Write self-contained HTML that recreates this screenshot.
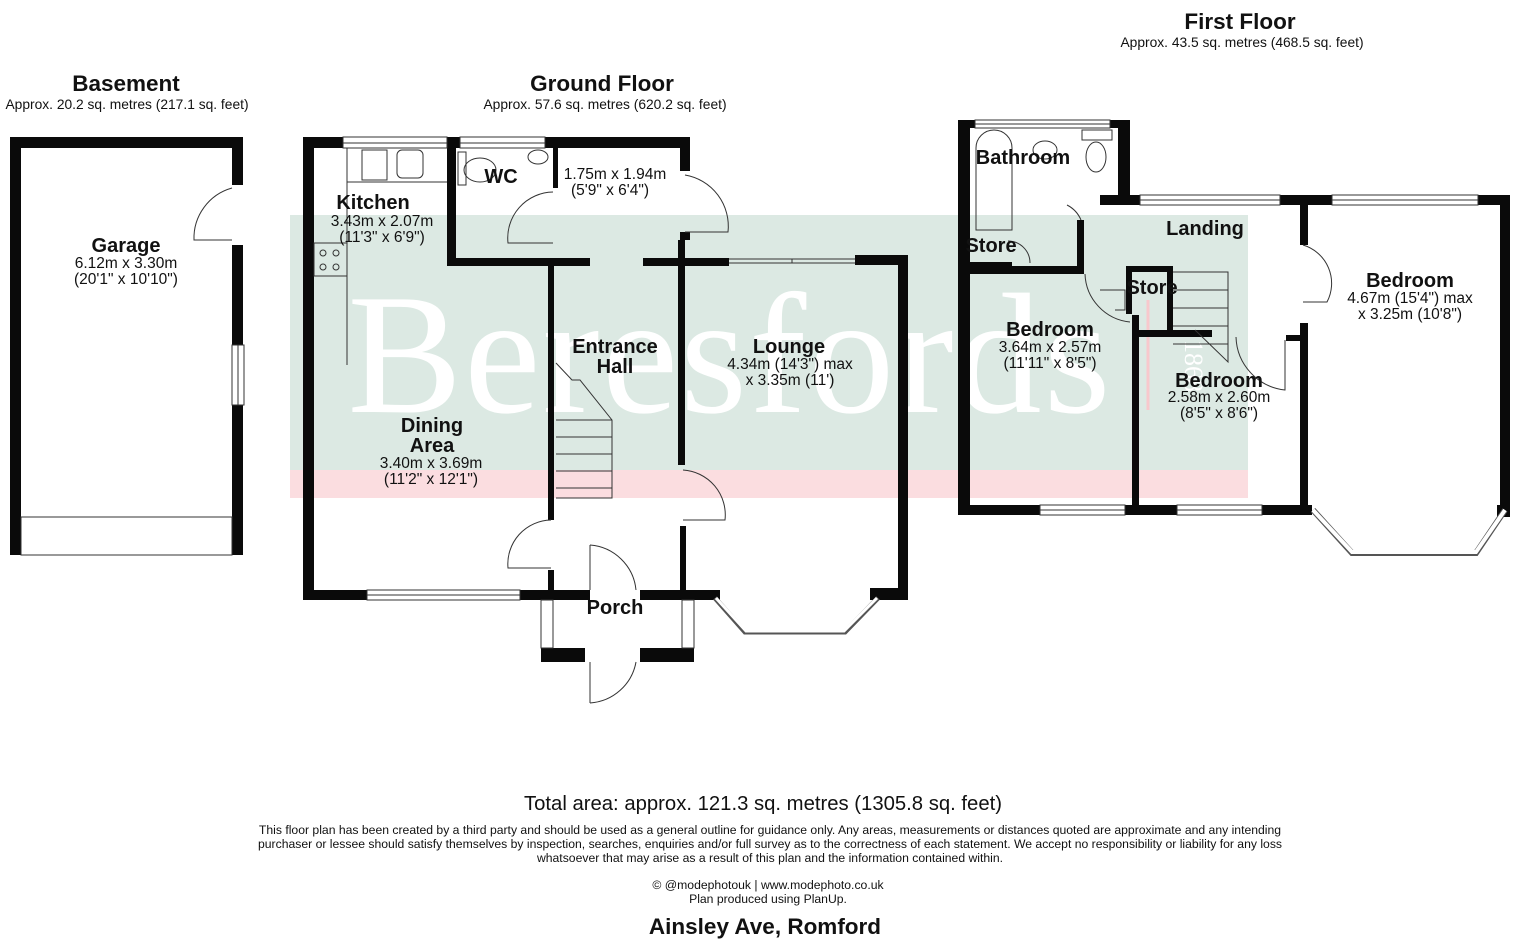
<!DOCTYPE html>
<html><head><meta charset="utf-8"><style>
html,body{margin:0;padding:0;background:#fff;}
svg{display:block;font-family:"Liberation Sans",Arial,sans-serif;}
.b{font-weight:bold;font-size:20px;}
.s{font-size:15.5px;}
.t{font-size:12.2px;}
</style></head><body>
<svg width="1530" height="939" viewBox="0 0 1530 939" xmlns="http://www.w3.org/2000/svg">
<!-- watermark -->
<rect x="290" y="215" width="958" height="255" fill="#dce9e3"/>
<rect x="290" y="470" width="958" height="28" fill="#fbdde0"/>
<text x="730" y="412" font-family="Liberation Serif,serif" font-size="172" fill="#fff" text-anchor="middle" letter-spacing="2">Beresfords</text>
<text x="1185" y="340" font-family="Liberation Serif,serif" font-size="26" fill="#fff" transform="rotate(90 1185 340)">1868</text>
<line x1="1148" y1="300" x2="1148" y2="410" stroke="#f8c8cc" stroke-width="3"/>

<g fill="#0a0a0a">
<rect x="10" y="137" width="233" height="11"/>
<rect x="10" y="137" width="11" height="418"/>
<rect x="232" y="137" width="11" height="48"/>
<rect x="232" y="245" width="11" height="100"/>
<rect x="232" y="405" width="11" height="150"/>
</g>
<g fill="none" stroke="#333" stroke-width="1">
<rect x="21" y="517" width="211" height="38"/>
<rect x="232" y="345" width="12" height="60"/><line x1="238" y1="345" x2="238" y2="405"/>
<path d="M232 188 A52 52 0 0 0 194 240 L232 240"/>
</g>

<g fill="#0a0a0a">
<rect x="303" y="137" width="11" height="463"/>
<rect x="303" y="137" width="40" height="11"/>
<rect x="447" y="137" width="13" height="11"/>
<rect x="545" y="137" width="145" height="11"/>
<rect x="680" y="137" width="10" height="34"/>
<rect x="680" y="232" width="10" height="8"/>
<rect x="447" y="148" width="9" height="118"/>
<rect x="447" y="258" width="143" height="8"/>
<rect x="643" y="258" width="86" height="8"/>
<rect x="553" y="148" width="5" height="40"/>
<rect x="548" y="258" width="6" height="262"/>
<rect x="548" y="570" width="6" height="30"/>
<rect x="678" y="240" width="7" height="225"/>
<rect x="680" y="526" width="6" height="74"/>
<rect x="855" y="255" width="53" height="10"/>
<rect x="898" y="255" width="10" height="345"/>
<rect x="303" y="590" width="64" height="10"/>
<rect x="520" y="590" width="70" height="10"/>
<rect x="640" y="590" width="80" height="10"/>
<rect x="870" y="588" width="38" height="12"/>
<rect x="541" y="648" width="44" height="14"/>
<rect x="640" y="648" width="54" height="14"/>
</g>
<g fill="none" stroke="#333" stroke-width="1">
<rect x="343" y="137" width="104" height="11"/><line x1="343" y1="143" x2="447" y2="143"/>
<rect x="460" y="137" width="85" height="11"/><line x1="460" y1="143" x2="545" y2="143"/>
<line x1="729" y1="259" x2="855" y2="259"/><line x1="729" y1="263" x2="855" y2="263"/><line x1="792" y1="259" x2="792" y2="263"/>
<rect x="367" y="590" width="153" height="10"/><line x1="367" y1="595" x2="520" y2="595"/>
<rect x="541" y="600" width="12" height="48"/><rect x="682" y="600" width="12" height="48"/>
<path d="M715 598 L745 632 L845 632 L878 598" stroke-width="5" stroke="#555"/>
<path d="M716 598 L746 631 L844 631 L877 598" stroke-width="3" stroke="#fff"/>
<path d="M347 148 L347 182 L447 182"/><rect x="362" y="150" width="25" height="30"/>
<rect x="397" y="150" width="26" height="28" rx="5"/>
<path d="M347 182 L347 365"/><rect x="314" y="243" width="33" height="33"/>
<circle cx="323" cy="253" r="3"/><circle cx="336" cy="253" r="3"/><circle cx="323" cy="267" r="3"/><circle cx="336" cy="267" r="3"/>
<ellipse cx="480" cy="170" rx="16" ry="12"/><rect x="458" y="152" width="8" height="33"/>
<ellipse cx="538" cy="157" rx="10" ry="7"/>
<path d="M553 192 A46 46 0 0 0 508 243 L553 243"/>
<path d="M685 175 A52 52 0 0 1 728 232 L685 232"/>
<path d="M683 470 A45 45 0 0 1 725 520 L683 520"/>
<path d="M551 520 A44 44 0 0 0 508 568 L551 568"/>
<path d="M590 545 A50 50 0 0 1 636 590"/><line x1="590" y1="545" x2="590" y2="590"/>
<path d="M590 703 A50 50 0 0 0 636 662"/><line x1="590" y1="662" x2="590" y2="703"/>
<path d="M556 363 L572 380 L580 380 L612 420 L612 498 L556 498"/>
<line x1="556" y1="420" x2="612" y2="420"/><line x1="556" y1="437" x2="612" y2="437"/>
<line x1="556" y1="454" x2="612" y2="454"/><line x1="556" y1="471" x2="612" y2="471"/><line x1="556" y1="488" x2="612" y2="488"/>
</g>

<g fill="#0a0a0a">
<rect x="958" y="120" width="12" height="395"/>
<rect x="958" y="120" width="17" height="8"/>
<rect x="1110" y="120" width="20" height="8"/>
<rect x="1118" y="120" width="12" height="85"/>
<rect x="1100" y="195" width="40" height="10"/>
<rect x="1280" y="195" width="52" height="10"/>
<rect x="1478" y="195" width="32" height="10"/>
<rect x="1500" y="195" width="10" height="320"/>
<rect x="1300" y="205" width="8" height="40"/>
<rect x="1300" y="323" width="8" height="185"/>
<rect x="1286" y="335" width="14" height="6"/>
<rect x="970" y="262" width="42" height="6"/>
<rect x="1077" y="220" width="7" height="52"/>
<rect x="970" y="266" width="114" height="8"/>
<rect x="1126" y="266" width="47" height="6"/>
<rect x="1126" y="266" width="6" height="48"/>
<rect x="1167" y="266" width="6" height="68"/>
<rect x="1132" y="330" width="80" height="7"/>
<rect x="1132" y="315" width="7" height="193"/>
<rect x="958" y="505" width="82" height="10"/>
<rect x="1125" y="505" width="52" height="10"/>
<rect x="1262" y="505" width="50" height="10"/>
<rect x="1497" y="505" width="13" height="12"/>
</g>
<g fill="none" stroke="#333" stroke-width="1">
<rect x="975" y="120" width="135" height="8"/><line x1="975" y1="124" x2="1110" y2="124"/>
<rect x="1140" y="195" width="140" height="10"/><line x1="1140" y1="200" x2="1280" y2="200"/>
<rect x="1332" y="195" width="146" height="10"/><line x1="1332" y1="200" x2="1478" y2="200"/>
<rect x="1040" y="505" width="85" height="10"/><line x1="1040" y1="510" x2="1125" y2="510"/>
<rect x="1177" y="505" width="85" height="10"/><line x1="1177" y1="510" x2="1262" y2="510"/>
<path d="M1313 510 L1352 553 L1476 553 L1505 510" stroke-width="6" stroke="#555"/>
<path d="M1313 510 L1352 552 L1476 552 L1505 510" stroke-width="4" stroke="#fff"/>
<path d="M976 230 L976 148 A10 10 0 0 1 1012 148 L1012 230 Z"/>
<ellipse cx="1045" cy="150" rx="12" ry="9"/>
<ellipse cx="1096" cy="157" rx="10" ry="15"/><rect x="1082" y="130" width="30" height="10"/>
<path d="M1030 263 A22 22 0 0 0 1008 241"/>
<path d="M1081 220 A30 30 0 0 0 1067 205"/>
<path d="M1085 274 A50 50 0 0 0 1130 322"/><path d="M1100 290 L1125 290 L1125 310 L1115 310"/>
<path d="M1303 245 A40 40 0 0 1 1327 302 L1303 302"/>
<path d="M1236 337 A55 55 0 0 0 1285 390 L1285 340"/>
<path d="M1173 272 L1228 272 L1228 362 L1195 330"/>
<line x1="1173" y1="290" x2="1228" y2="290"/><line x1="1173" y1="308" x2="1228" y2="308"/>
<line x1="1173" y1="326" x2="1228" y2="326"/><line x1="1173" y1="344" x2="1228" y2="344"/>
</g>

<g text-anchor="middle" fill="#111">
<text x="126" y="91" class="b" style="font-size:22.5px">Basement</text>
<text x="127" y="109" style="font-size:13.8px">Approx. 20.2 sq. metres (217.1 sq. feet)</text>
<text x="602" y="91" class="b" style="font-size:22.5px">Ground Floor</text>
<text x="605" y="109" style="font-size:13.8px">Approx. 57.6 sq. metres (620.2 sq. feet)</text>
<text x="1240" y="29" class="b" style="font-size:22.5px">First Floor</text>
<text x="1242" y="47" style="font-size:13.8px">Approx. 43.5 sq. metres (468.5 sq. feet)</text>

<text x="126" y="252" class="b">Garage</text>
<text x="126" y="268" class="s">6.12m x 3.30m</text>
<text x="126" y="284" class="s">(20'1" x 10'10")</text>

<text x="373" y="209" class="b">Kitchen</text>
<text x="382" y="226" class="s">3.43m x 2.07m</text>
<text x="382" y="242" class="s">(11'3" x 6'9")</text>
<text x="501" y="183" class="b">WC</text>
<text x="615" y="179" class="s">1.75m x 1.94m</text>
<text x="610" y="195" class="s">(5'9" x 6'4")</text>
<text x="615" y="353" class="b">Entrance</text>
<text x="615" y="373" class="b">Hall</text>
<text x="789" y="353" class="b">Lounge</text>
<text x="790" y="369" class="s">4.34m (14'3") max</text>
<text x="790" y="385" class="s">x 3.35m (11')</text>
<text x="432" y="432" class="b">Dining</text>
<text x="432" y="452" class="b">Area</text>
<text x="431" y="468" class="s">3.40m x 3.69m</text>
<text x="431" y="484" class="s">(11'2" x 12'1")</text>
<text x="615" y="614" class="b">Porch</text>

<text x="1023" y="164" class="b">Bathroom</text>
<text x="991" y="252" class="b">Store</text>
<text x="1205" y="235" class="b">Landing</text>
<text x="1152" y="294" class="b">Store</text>
<text x="1050" y="336" class="b">Bedroom</text>
<text x="1050" y="352" class="s">3.64m x 2.57m</text>
<text x="1050" y="368" class="s">(11'11" x 8'5")</text>
<text x="1219" y="387" class="b">Bedroom</text>
<text x="1219" y="402" class="s">2.58m x 2.60m</text>
<text x="1219" y="418" class="s">(8'5" x 8'6")</text>
<text x="1410" y="287" class="b">Bedroom</text>
<text x="1410" y="303" class="s">4.67m (15'4") max</text>
<text x="1410" y="319" class="s">x 3.25m (10'8")</text>

<text x="763" y="810" style="font-size:20.3px">Total area: approx. 121.3 sq. metres (1305.8 sq. feet)</text>
<text x="770" y="834" class="t">This floor plan has been created by a third party and should be used as a general outline for guidance only. Any areas, measurements or distances quoted are approximate and any intending</text>
<text x="770" y="848" class="t">purchaser or lessee should satisfy themselves by inspection, searches, enquiries and/or full survey as to the correctness of each statement. We accept no responsibility or liability for any loss</text>
<text x="770" y="862" class="t">whatsoever that may arise as a result of this plan and the information contained within.</text>
<text x="768" y="889" class="t">© @modephotouk | www.modephoto.co.uk</text>
<text x="768" y="903" class="t">Plan produced using PlanUp.</text>
<text x="765" y="934" class="b" style="font-size:22.5px">Ainsley Ave, Romford</text>
</g>
</svg>
</body></html>
